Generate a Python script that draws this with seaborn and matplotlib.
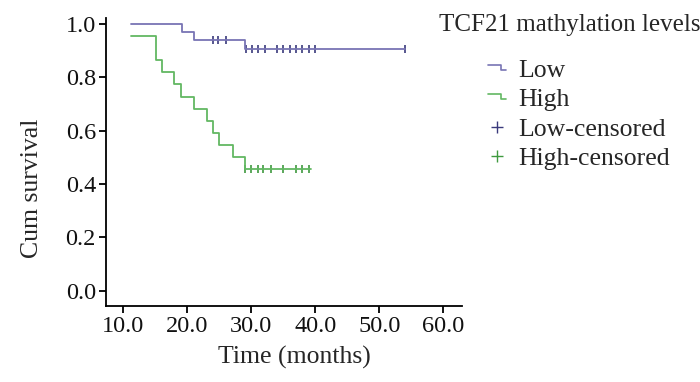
import seaborn as sns
import matplotlib.pyplot as plt
import pandas as pd
from matplotlib.legend_handler import HandlerBase
from matplotlib.lines import Line2D

# Kaplan-Meier step data (months, cumulative survival)
low_times = [11.2, 19.2, 21.1, 29.1, 54.0]
low_surv = [1.0, 0.971, 0.941, 0.905, 0.905]
low_cens_t = [24.1, 24.9, 26.1, 29.2, 30.1, 31.0, 32.1, 34.0, 35.0, 36.0, 37.0, 38.0, 39.1, 40.0, 54.0]
low_cens_s = [0.941, 0.941, 0.941] + [0.905] * 12

high_times = [11.2, 15.1, 16.1, 18.0, 19.1, 21.1, 23.1, 24.1, 25.0, 27.1, 29.1, 39.3]
high_surv = [0.955, 0.864, 0.818, 0.773, 0.727, 0.682, 0.636, 0.591, 0.545, 0.500, 0.455, 0.455]
high_cens_t = [29.1, 30.0, 31.0, 31.9, 33.1, 35.0, 37.0, 38.0, 39.1]
high_cens_s = [0.455] * 9

groups = ["Low", "High"]
colors = {"Low": "#7874b4", "High": "#62b862"}
cens_colors = {"Low": "#3a3a7c", "High": "#3f9a3f"}

steps = pd.DataFrame({
    "time": low_times + high_times,
    "surv": low_surv + high_surv,
    "group": ["Low"] * len(low_times) + ["High"] * len(high_times),
})
cens = pd.DataFrame({
    "time": low_cens_t + high_cens_t,
    "surv": low_cens_s + high_cens_s,
    "group": ["Low"] * len(low_cens_t) + ["High"] * len(high_cens_t),
})

sns.set_style("ticks")
plt.rcParams["font.family"] = ["Liberation Serif", "DejaVu Serif"]

fig = plt.figure(figsize=(7, 3.82), dpi=100)
ax = fig.add_axes([0.151, 0.199, 0.509, 0.754])

for g in groups:
    d = steps[steps.group == g]
    sns.lineplot(data=d, x="time", y="surv", ax=ax, color=colors[g],
                 drawstyle="steps-post", linewidth=1.3, legend=False)
    c = cens[cens.group == g]
    sns.scatterplot(data=c, x="time", y="surv", ax=ax, marker="|", s=40,
                    color=cens_colors[g], linewidth=1.2, legend=False)

ax.set_xlim(7.3, 62.9)
ax.set_ylim(-0.057, 1.022)
ax.set_xticks([10, 20, 30, 40, 50, 60])
ax.set_xticklabels([f"{v:.1f}" for v in [10, 20, 30, 40, 50, 60]])
ax.set_yticks([0, 0.2, 0.4, 0.6, 0.8, 1.0])
ax.set_yticklabels([f"{v:.1f}" for v in [0, 0.2, 0.4, 0.6, 0.8, 1.0]])
ax.tick_params(labelsize=17.5, length=5, width=1.3, pad=2, color="black", labelcolor="#111111")
for s in ["left", "bottom"]:
    ax.spines[s].set_linewidth(1.3)
    ax.spines[s].set_color("black")
sns.despine(ax=ax)
ax.set_xlabel("Time (months)", fontsize=18.5)
ax.set_ylabel("Cum survival", fontsize=18.5)
ax.xaxis.set_label_coords(0.529, -0.14)
ax.yaxis.set_label_coords(-0.177, 0.41)


class StepHandler(HandlerBase):
    def create_artists(self, legend, orig_handle, xdescent, ydescent,
                       width, height, fontsize, trans):
        x0 = -xdescent
        xs = [x0, x0 + width * 0.7, x0 + width * 0.7, x0 + width]
        ys = [height * 0.7, height * 0.7, height * 0.4, height * 0.4]
        ln = Line2D(xs, ys, color=orig_handle.get_color(), linewidth=1.2, transform=trans)
        return [ln]


h_low = Line2D([], [], color=colors["Low"])
h_high = Line2D([], [], color=colors["High"])
h_lc = Line2D([], [], color=cens_colors["Low"], marker="+", linestyle="", markersize=9)
h_hc = Line2D([], [], color=cens_colors["High"], marker="+", linestyle="", markersize=9)

fig.text(0.8136, 0.935, "TCF21 mathylation levels", fontsize=18, ha="center", va="center")
fig.legend([h_low, h_high, h_lc, h_hc], ["Low", "High", "Low-censored", "High-censored"],
           handler_map={h_low: StepHandler(), h_high: StepHandler()},
           loc="upper left", bbox_to_anchor=(0.697, 0.845), frameon=False,
           fontsize=18.5, handlelength=0.72, handletextpad=0.45, labelspacing=0.24,
           borderaxespad=0, borderpad=0)

fig.savefig("out.png", dpi=100)
